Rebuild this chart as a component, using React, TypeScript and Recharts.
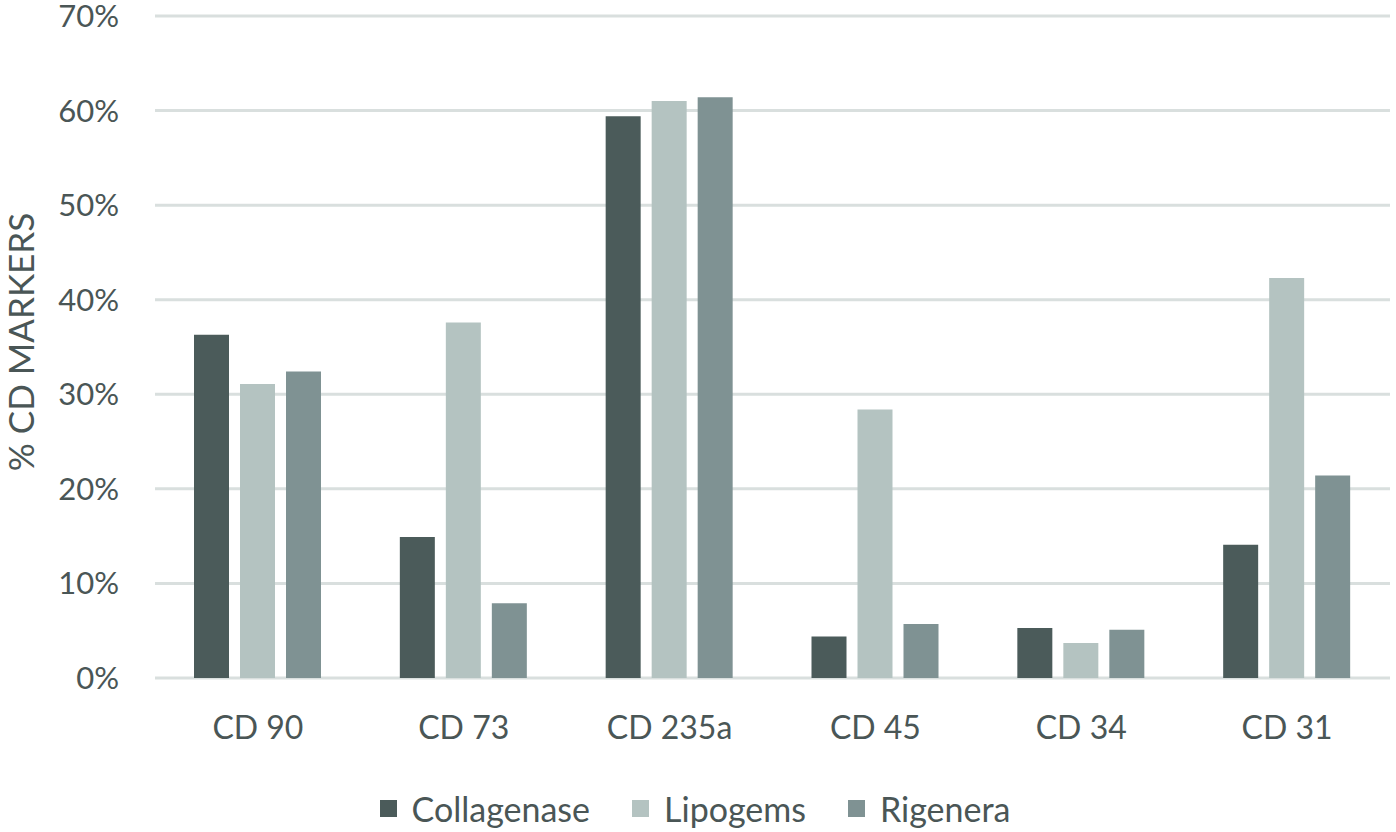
import React from 'react';
import { BarChart, Bar, XAxis, YAxis, CartesianGrid, Legend } from 'recharts';

const categories = ['CD 90', 'CD 73', 'CD 235a', 'CD 45', 'CD 34', 'CD 31'];
const collagenase = [36.3, 14.9, 59.4, 4.4, 5.3, 14.1];
const lipogems = [31.1, 37.6, 61.0, 28.4, 3.7, 42.3];
const rigenera = [32.4, 7.9, 61.4, 5.7, 5.1, 21.4];
const yTicks = [0, 10, 20, 30, 40, 50, 60, 70];

const seriesNames = ['Collagenase', 'Lipogems', 'Rigenera'];
const seriesColors = ['#4b5b5a', '#b4c3c1', '#7f9293'];

const data = categories.map((c, i) => ({
  name: c,
  Collagenase: collagenase[i],
  Lipogems: lipogems[i],
  Rigenera: rigenera[i],
}));

const FONT = 'Lato, "Open Sans", sans-serif';
const TEXT = '#4a5656';

const renderLegend = () => (
  <div
    style={{
      height: 72,
      boxSizing: 'border-box',
      paddingTop: 24,
      display: 'flex',
      justifyContent: 'center',
      alignItems: 'center',
      fontFamily: FONT,
      fontSize: 34,
      color: TEXT,
    }}
  >
    {seriesNames.map((n, i) => (
      <div key={n} style={{ display: 'flex', alignItems: 'center', marginLeft: i === 0 ? 0 : 42 }}>
        <div style={{ width: 17, height: 17, background: seriesColors[i], marginRight: 15 }} />
        <span>{n}</span>
      </div>
    ))}
  </div>
);

export default function App() {
  return (
    <div style={{ position: 'absolute', left: 0, top: 0, background: '#fff' }}>
      <BarChart
        width={1396}
        height={832}
        data={data}
        margin={{ top: 16, right: 6, bottom: 0, left: 0 }}
        barSize={35}
        barGap={11}
      >
        <CartesianGrid vertical={false} stroke="#d9dfde" strokeWidth={3} />
        <XAxis
          dataKey="name"
          axisLine={false}
          tickLine={false}
          tickSize={0}
          tickMargin={38}
          height={82}
          tick={{ fill: TEXT, fontSize: 32, fontFamily: FONT }}
        />
        <YAxis
          domain={[0, 70]}
          ticks={yTicks}
          interval={0}
          axisLine={false}
          tickLine={false}
          tickSize={0}
          tickMargin={36}
          width={155}
          tickFormatter={(v) => `${v}%`}
          tick={{ fill: TEXT, fontSize: 31, fontFamily: FONT }}
          label={{
            content: (props: any) => {
              const vb = props.viewBox || { x: 0, y: 16, width: 155, height: 662 };
              const x = vb.x + 34;
              const y = vb.y + vb.height / 2 - 5;
              return (
                <text
                  x={x}
                  y={y}
                  transform={`rotate(-90 ${x} ${y})`}
                  textAnchor="middle"
                  fill={TEXT}
                  fontSize={35}
                  fontFamily={FONT}
                >
                  % CD MARKERS
                </text>
              );
            },
          }}
        />
        <Legend verticalAlign="bottom" content={renderLegend} />
        {seriesNames.map((n, i) => (
          <Bar key={n} dataKey={n} fill={seriesColors[i]} isAnimationActive={false} />
        ))}
      </BarChart>
    </div>
  );
}
